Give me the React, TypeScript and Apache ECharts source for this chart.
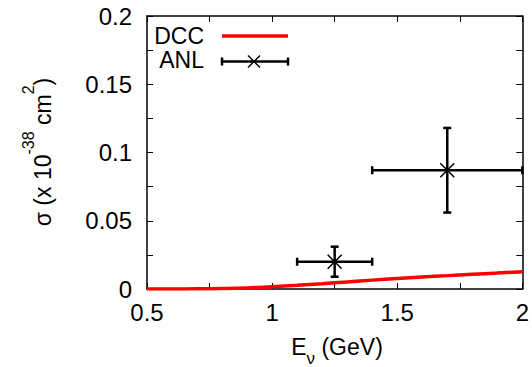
import React, { useEffect, useRef } from "react";
import * as echarts from "echarts";

// DCC model curve (E in GeV, sigma in 1e-38 cm^2)
const dccE = [0.5, 0.6, 0.7, 0.8, 0.9, 1.0, 1.1, 1.2, 1.3, 1.4, 1.5, 1.6, 1.7, 1.8, 1.9, 2.0];
const dccSigma = [0, 0, 0.0001, 0.0003, 0.0008, 0.0017, 0.0027, 0.0039, 0.0052, 0.0065, 0.0077, 0.0088, 0.0098, 0.0108, 0.0117, 0.0127];

// ANL data points with error bars
const anlE = [1.25, 1.7];
const anlELow = [1.1, 1.4];
const anlEHigh = [1.4, 2.0];
const anlSigma = [0.02, 0.087];
const anlSigmaLow = [0.009, 0.056];
const anlSigmaHigh = [0.031, 0.118];

const xTicks = [0.5, 1, 1.5, 2];
const yTicks = [0, 0.05, 0.1, 0.15, 0.2];

const FONT = "'Liberation Sans', Arial, Helvetica, sans-serif";

export default function App() {
  const ref = useRef<HTMLDivElement>(null);
  useEffect(() => {
    if (!ref.current) return;
    const chart = echarts.init(ref.current, undefined, { renderer: "svg" });

    const isTick = (v: number, list: number[]) => list.some((t) => Math.abs(t - v) < 1e-9);
    const fmt = (v: number) => String(parseFloat(v.toFixed(4)));

    const anlData = anlE.map((x, i) => [x, anlSigma[i], anlELow[i], anlEHigh[i], anlSigmaLow[i], anlSigmaHigh[i]]);

    const axisCommon = {
      axisLine: { show: true, onZero: false, lineStyle: { color: "#000", width: 1.5 } },
      axisTick: { show: true, inside: true, length: 6, lineStyle: { color: "#000", width: 1 } },
      splitLine: { show: false },
    };

    const option: any = {
      animation: false,
      backgroundColor: "#fff",
      grid: { left: 147, right: 6, top: 16, bottom: 78, containLabel: false },
      xAxis: [
        {
          type: "value",
          min: 0.5,
          max: 2,
          interval: 0.25,
          ...axisCommon,
          axisLabel: {
            show: true,
            margin: 11,
            fontSize: 24,
            fontFamily: FONT,
            color: "#000",
            formatter: (v: number) => (isTick(v, xTicks) ? fmt(v) : ""),
          },
        },
        {
          type: "value",
          position: "top",
          min: 0.5,
          max: 2,
          interval: 0.25,
          ...axisCommon,
          axisLabel: { show: false },
        },
      ],
      yAxis: [
        {
          type: "value",
          min: 0,
          max: 0.2,
          interval: 0.025,
          ...axisCommon,
          axisLabel: {
            show: true,
            margin: 15,
            fontSize: 24,
            fontFamily: FONT,
            color: "#000",
            formatter: (v: number) => (isTick(v, yTicks) ? fmt(v) : ""),
          },
        },
        {
          type: "value",
          position: "right",
          min: 0,
          max: 0.2,
          interval: 0.025,
          ...axisCommon,
          axisLabel: { show: false },
        },
      ],
      series: [
        {
          name: "DCC",
          type: "line",
          data: dccE.map((x, i) => [x, dccSigma[i]]),
          smooth: true,
          showSymbol: false,
          lineStyle: { color: "#ff0000", width: 3.5 },
          z: 3,
        },
        {
          name: "ANL",
          type: "custom",
          data: anlData,
          clip: false,
          z: 4,
          renderItem: (params: any, api: any) => {
            const x = api.value(0);
            const y = api.value(1);
            const c = api.coord([x, y]);
            const l = api.coord([api.value(2), y]);
            const r = api.coord([api.value(3), y]);
            const lo = api.coord([x, api.value(4)]);
            const hi = api.coord([x, api.value(5)]);
            const st = { stroke: "#000", lineWidth: 2.5 };
            const cap = 4;
            const m = 7;
            return {
              type: "group",
              children: [
                { type: "line", shape: { x1: l[0], y1: c[1], x2: r[0], y2: c[1] }, style: st },
                { type: "line", shape: { x1: l[0], y1: c[1] - cap, x2: l[0], y2: c[1] + cap }, style: st },
                { type: "line", shape: { x1: r[0], y1: c[1] - cap, x2: r[0], y2: c[1] + cap }, style: st },
                { type: "line", shape: { x1: c[0], y1: lo[1], x2: c[0], y2: hi[1] }, style: st },
                { type: "line", shape: { x1: c[0] - cap, y1: lo[1], x2: c[0] + cap, y2: lo[1] }, style: st },
                { type: "line", shape: { x1: c[0] - cap, y1: hi[1], x2: c[0] + cap, y2: hi[1] }, style: st },
                { type: "line", shape: { x1: c[0] - m, y1: c[1] - m, x2: c[0] + m, y2: c[1] + m }, style: { stroke: "#000", lineWidth: 1.5 } },
                { type: "line", shape: { x1: c[0] - m, y1: c[1] + m, x2: c[0] + m, y2: c[1] - m }, style: { stroke: "#000", lineWidth: 1.5 } },
              ],
            };
          },
        },
      ],
      graphic: [
        // legend
        {
          type: "text",
          x: 204,
          y: 35.5,
          style: { text: "DCC", fontSize: 23, lineHeight: 22, fontFamily: FONT, fill: "#000", align: "right", verticalAlign: "middle" },
        },
        { type: "line", shape: { x1: 222, y1: 36, x2: 288, y2: 36 }, style: { stroke: "#ff0000", lineWidth: 3.5 } },
        {
          type: "text",
          x: 204,
          y: 60,
          style: { text: "ANL", fontSize: 23, lineHeight: 22, fontFamily: FONT, fill: "#000", align: "right", verticalAlign: "middle" },
        },
        { type: "line", shape: { x1: 222, y1: 61.5, x2: 288, y2: 61.5 }, style: { stroke: "#000", lineWidth: 2.5 } },
        { type: "line", shape: { x1: 222, y1: 57.5, x2: 222, y2: 65.5 }, style: { stroke: "#000", lineWidth: 2.5 } },
        { type: "line", shape: { x1: 288, y1: 57.5, x2: 288, y2: 65.5 }, style: { stroke: "#000", lineWidth: 2.5 } },
        { type: "line", shape: { x1: 248, y1: 55.5, x2: 260, y2: 67.5 }, style: { stroke: "#000", lineWidth: 1.5 } },
        { type: "line", shape: { x1: 248, y1: 67.5, x2: 260, y2: 55.5 }, style: { stroke: "#000", lineWidth: 1.5 } },
        // y axis name
        {
          type: "text",
          x: 37,
          y: 152,
          rotation: Math.PI / 2,
          style: {
            text: "{a|σ (x 10}{s|-38}{a| cm}{s|2}{a|)}",
            align: "center",
            verticalAlign: "middle",
            fill: "#000",
            rich: {
              a: { fontSize: 23, fontFamily: FONT, fill: "#000", lineHeight: 34, verticalAlign: "bottom" },
              s: { fontSize: 16, fontFamily: FONT, fill: "#000", lineHeight: 34, verticalAlign: "top" },
            },
          },
        },
        // x axis name
        {
          type: "text",
          x: 337,
          y: 351,
          style: {
            text: "{a|E}{s|ν}{a| (GeV)}",
            align: "center",
            verticalAlign: "middle",
            fill: "#000",
            rich: {
              a: { fontSize: 23, fontFamily: FONT, fill: "#000", lineHeight: 32, verticalAlign: "top" },
              s: { fontSize: 17, fontFamily: FONT, fill: "#000", lineHeight: 32, verticalAlign: "bottom" },
            },
          },
        },
      ],
    };
    chart.setOption(option);
    return () => chart.dispose();
  }, []);
  return <div ref={ref} style={{ position: "fixed", left: 0, top: 0, width: 532, height: 367 }} />;
}
